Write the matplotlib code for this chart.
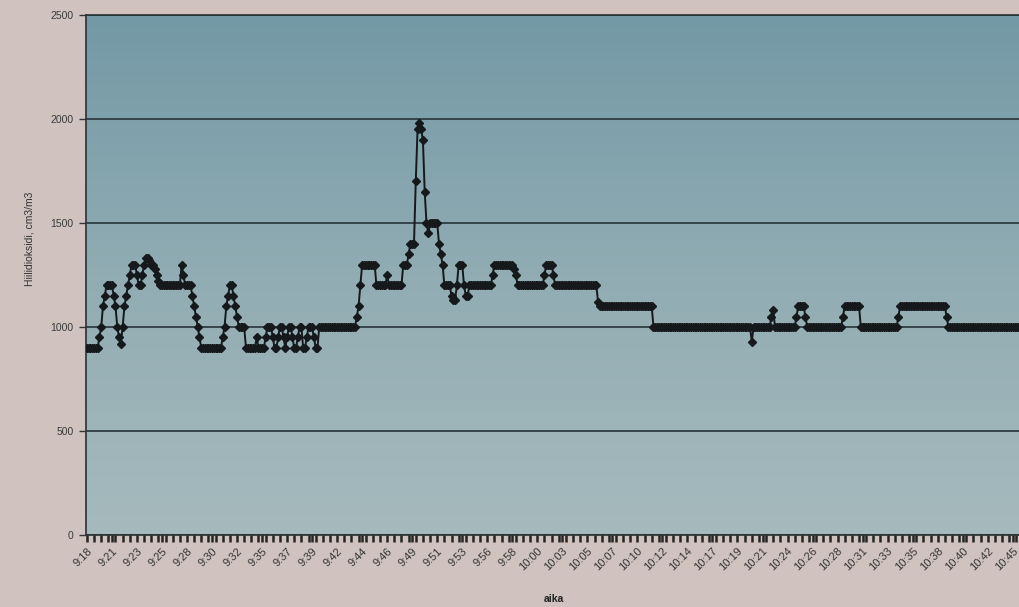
import numpy as np
import matplotlib
matplotlib.use("Agg")
import matplotlib.pyplot as plt
from matplotlib.colors import LinearSegmentedColormap

# ---- data (CO2 readings, every 10 s; given as runs of equal readings) ----
co2_levels = [
    900, 950, 1000, 1100, 1150, 1200, 1150, 1100, 1000, 950, 920,
    1000, 1100, 1150, 1200, 1250, 1300,
    1300, 1250, 1200, 1250, 1300, 1330, 1320, 1300, 1280, 1250, 1220,
    1200, 1300, 1250, 1200, 1150, 1100, 1050, 1000, 950, 900,
    950, 1000, 1100, 1150, 1200, 1200, 1150, 1100, 1050, 1000, 1000,
    900, 950, 900, 950,
    1000, 950, 900, 950, 1000, 950, 900, 950, 1000, 950, 900, 950, 1000, 900, 950, 1000, 950, 900,
    1000, 1050, 1100, 1200, 1300, 1200, 1250, 1200,
    1300, 1350, 1400, 1700, 1950, 1980, 1950, 1900, 1650, 1500, 1450, 1500, 1400, 1350, 1300,
    1200, 1150, 1130, 1200, 1300, 1200, 1150,
    1200, 1250, 1300, 1280, 1250, 1200, 1250, 1300, 1250, 1200,
    1120, 1100, 1000, 930, 1000, 1050, 1080, 1000,
    1050, 1100, 1050, 1000, 1050, 1100, 1000, 1050, 1100, 1050, 1000,
]
co2_counts = [
    7, 1, 1, 1, 1, 4, 1, 1, 1, 1, 1,
    1, 1, 1, 1, 1, 1,
    2, 1, 2, 1, 1, 2, 1, 2, 1, 1, 1,
    12, 1, 1, 4, 1, 1, 1, 1, 1, 12,
    1, 1, 1, 1, 1, 1, 1, 1, 1, 1, 3,
    6, 1, 4, 1,
    3, 1, 2, 1, 2, 1, 1, 1, 2, 1, 2, 1, 2, 2, 1, 3, 1, 2,
    21, 1, 1, 1, 8, 6, 1, 8,
    3, 1, 3, 1, 1, 1, 1, 1, 1, 1, 1, 5, 1, 1, 1,
    4, 1, 2, 1, 3, 1, 2,
    13, 1, 11, 1, 1, 15, 1, 4, 1, 24,
    1, 30, 55, 1, 10, 1, 1, 12,
    1, 4, 1, 20, 1, 9, 21, 1, 26, 1, 40,
]
time_labels = ["9:18", "9:21", "9:23", "9:25", "9:28", "9:30", "9:32", "9:35",
               "9:37", "9:39", "9:42", "9:44", "9:46", "9:49", "9:51", "9:53",
               "9:56", "9:58", "10:00", "10:03", "10:05", "10:07", "10:10",
               "10:12", "10:14", "10:17", "10:19", "10:21", "10:24", "10:26",
               "10:28", "10:31", "10:33", "10:35", "10:38", "10:40", "10:42",
               "10:45"]
label_step = 14  # one label every 14 readings
y_ticks = [0, 500, 1000, 1500, 2000, 2500]

co2 = np.repeat(co2_levels, co2_counts)
idx = np.arange(len(co2))

plt.rcParams['font.family'] = ['Liberation Sans', 'DejaVu Sans']

W, H = 1019, 607
fig = plt.figure(figsize=(W / 100, H / 100), dpi=100)
fig.patch.set_facecolor('#d0c3bf')

left, right, top, bottom = 86, 1019, 15, 535
ax = fig.add_axes([left / W, 1 - bottom / H, (right - left) / W, (bottom - top) / H])

# plot-area gradient (photo of a blue-grey Excel plot area)
cmap = LinearSegmentedColormap.from_list('bg', ['#7399a6', '#91acb3', '#a6babd'])
grad = np.linspace(0, 1, 256).reshape(-1, 1)
ax.imshow(grad, aspect='auto', cmap=cmap, extent=[0, 1, 0, 1],
          transform=ax.transAxes, origin='upper', zorder=0)

ax.set_xlim(-0.5, 521.5)
ax.set_ylim(0, 2500)
ax.set_yticks(y_ticks)
ax.set_yticklabels([str(v) for v in y_ticks])
ax.yaxis.grid(True, color='#26333a', linewidth=1.2, zorder=1)
ax.set_axisbelow(False)

ax.plot(idx, co2, color='#15191b', linewidth=1.4, marker='D', markersize=4.3,
        markerfacecolor='#15191b', markeredgecolor='#15191b', zorder=3)

tick_pos = np.arange(len(time_labels)) * label_step
ax.set_xticks(tick_pos)
ax.set_xticklabels(time_labels, rotation=45, ha='right', va='top',
                   rotation_mode='anchor')
ax.set_xticks(np.arange(0, 522, 4), minor=True)
ax.tick_params(axis='x', which='major', length=5, width=1.8, color='#252525',
               labelsize=8, labelcolor='#333333', pad=3)
ax.tick_params(axis='x', which='minor', length=5, width=1.8, color='#252525')
ax.tick_params(axis='y', length=5, width=1, color='#333333', labelsize=7.5,
               labelcolor='#3a3a3a', pad=4)

for s in ['left', 'bottom', 'top']:
    ax.spines[s].set_color('#2a3032')
    ax.spines[s].set_linewidth(1.2)
ax.spines['right'].set_visible(False)

fig.text(30 / W, 1 - 239 / H, 'Hiilidioksidi, cm3/m3', rotation=90,
         ha='center', va='center', fontsize=7.5, color='#333333')
fig.text(554 / W, 1 - 599 / H, 'aika', ha='center', va='center',
         fontsize=7.5, color='#222222', fontweight='bold')

fig.savefig('out.png', dpi=100, facecolor=fig.get_facecolor())
